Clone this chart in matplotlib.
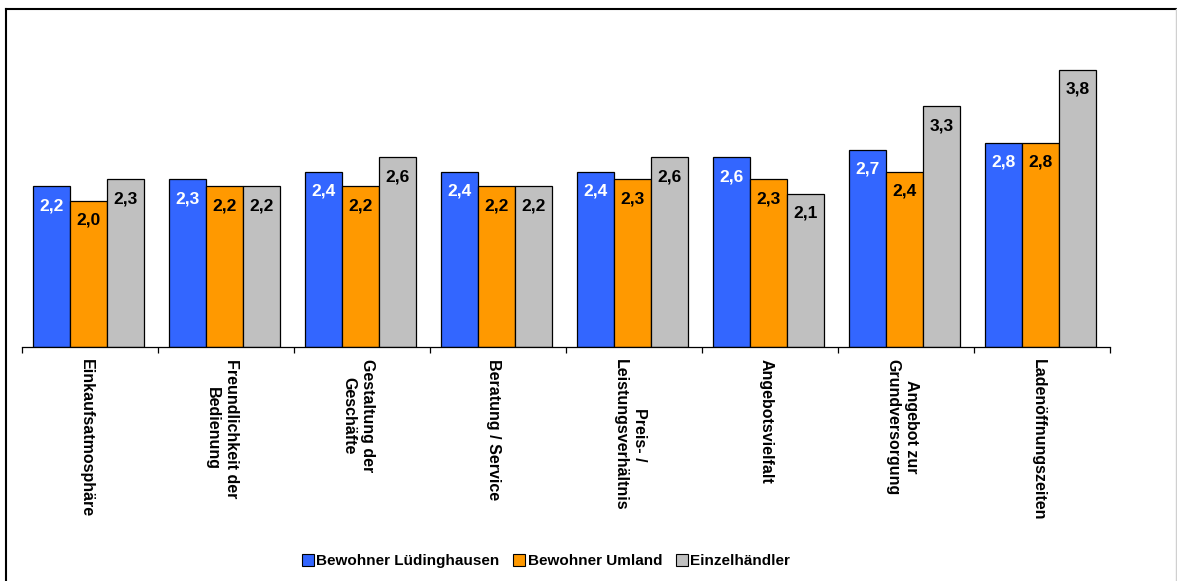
import numpy as np
import matplotlib
matplotlib.use("Agg")
import matplotlib.pyplot as plt
from matplotlib.lines import Line2D

plt.rcParams['font.family'] = ['Liberation Sans', 'DejaVu Sans']

# Daten
kategorien = ["Einkaufsatmosphäre", "Freundlichkeit der\nBedienung", "Gestaltung der\nGeschäfte",
              "Beratung / Service", "Preis- /\nLeistungsverhältnis", "Angebotsvielfalt",
              "Angebot zur\nGrundversorgung", "Ladenöffnungszeiten"]
serien = ["Bewohner Lüdinghausen", "Bewohner Umland", "Einzelhändler"]
luedinghausen = [2.2, 2.3, 2.4, 2.4, 2.4, 2.6, 2.7, 2.8]
umland = [2.0, 2.2, 2.2, 2.2, 2.3, 2.3, 2.4, 2.8]
haendler = [2.3, 2.2, 2.6, 2.2, 2.6, 2.1, 3.3, 3.8]

farben = ["#3366FF", "#FF9900", "#C0C0C0"]
textfarben = ["white", "black", "black"]

fig = plt.figure(figsize=(11.77, 5.81), dpi=100)
ax = fig.add_axes([22 / 1177, 1 - 347 / 581, (1110 - 22) / 1177, 337 / 581])

x = np.arange(len(kategorien))
w = 0.272
for i, (werte, farbe, tf) in enumerate(zip([luedinghausen, umland, haendler], farben, textfarben)):
    pos = x + (i - 1) * w - 0.01
    bars = ax.bar(pos, werte, w, color=farbe, edgecolor="black", linewidth=0.9, label=serien[i])
    for b, v in zip(bars, werte):
        ax.annotate(f"{v:.1f}".replace(".", ","), (b.get_x() + b.get_width() / 2, v),
                    xytext=(0, -14), textcoords="offset points", ha="center", va="center",
                    color=tf, fontsize=12.5, fontweight="bold")

ax.set_xlim(-0.5, len(kategorien) - 0.5)
ax.set_ylim(0, 337 / 73)
for s in ["left", "right", "top"]:
    ax.spines[s].set_visible(False)
ax.spines["bottom"].set_linewidth(0.9)
ax.set_yticks([])
ax.set_xticks(np.arange(len(kategorien) + 1) - 0.5)
ax.set_xticklabels([])
ax.tick_params(axis="x", direction="out", length=4, width=0.9)

for xi, lab in zip(x, kategorien):
    ax.text(xi - 0.03, -12 / 73, lab, rotation=-90, ha="center", va="top", multialignment="center",
            fontsize=11.5, fontweight="bold", linespacing=1.3)

handles = [Line2D([], [], marker="s", linestyle="none", markersize=8, markerfacecolor=c,
                  markeredgecolor="black", markeredgewidth=0.8) for c in farben]
fig.legend(handles, serien, loc="center", bbox_to_anchor=(546 / 1177, 1 - 561 / 581), ncol=3,
           frameon=False, prop={"weight": "bold", "size": 11}, handletextpad=0.15,
           columnspacing=0.9, handlelength=0.8)

# Rahmen
fig.add_artist(Line2D([6 / 1177, 6 / 1177], [0, 1 - 9 / 581], color="black", lw=1.5))
fig.add_artist(Line2D([6 / 1177, 1176 / 1177], [1 - 9 / 581, 1 - 9 / 581], color="black", lw=1.5))
fig.add_artist(Line2D([1176 / 1177, 1176 / 1177], [0, 1 - 9 / 581], color="#D0D0D0", lw=1))

fig.savefig("out.png", dpi=100)
